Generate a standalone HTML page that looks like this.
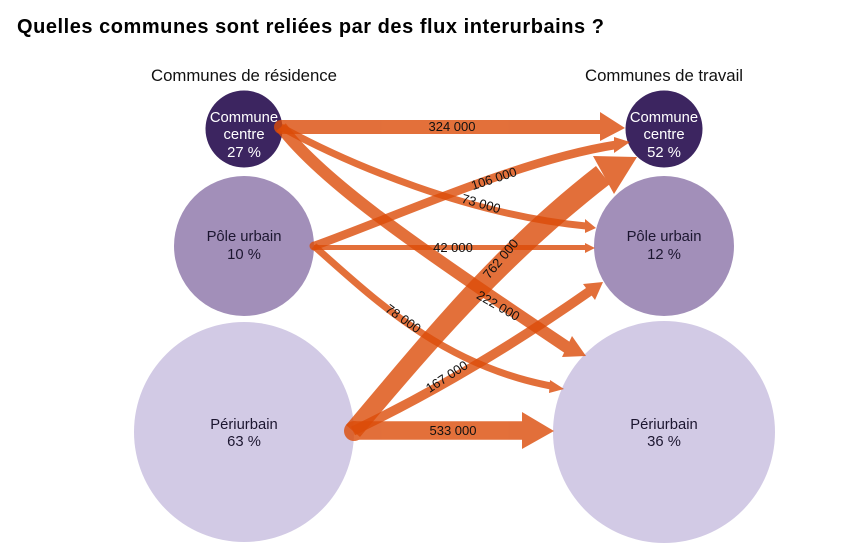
<!DOCTYPE html>
<html><head><meta charset="utf-8"><style>
html,body{margin:0;padding:0;background:#fff;width:867px;height:558px;overflow:hidden}
svg{display:block}
text{font-family:"Liberation Sans",sans-serif}
.f{fill:#dc4c09;stroke:none}
.s{fill:none;stroke:#dc4c09}
.l{font-size:13px;fill:#111;text-anchor:middle}
.c{font-size:14.8px;text-anchor:middle;fill:#1c1630}
.w{font-size:14.8px;text-anchor:middle;fill:#fff}
</style></head><body>
<svg width="867" height="558" viewBox="0 0 867 558" xmlns="http://www.w3.org/2000/svg">
<rect width="867" height="558" fill="#fff"/>
<text x="17" y="33" font-size="20" font-weight="bold" fill="#000" textLength="587" lengthAdjust="spacing">Quelles communes sont reliées par des flux interurbains ?</text>
<text x="151" y="81" font-size="16.800" fill="#111" textLength="186">Communes de résidence</text>
<text x="585" y="81" font-size="16.800" fill="#111" textLength="158">Communes de travail</text>

<circle cx="244" cy="129" r="38.5" fill="#3c2560"/>
<circle cx="244" cy="246" r="70" fill="#a28fb9"/>
<circle cx="244" cy="432" r="110" fill="#d2cae5"/>
<circle cx="664" cy="129" r="38.5" fill="#3c2560"/>
<circle cx="664" cy="246" r="70" fill="#a28fb9"/>
<circle cx="664" cy="432" r="111" fill="#d2cae5"/>

<g opacity="0.8">
<path class="s" stroke-width="14" d="M281,127 H601"/>
<polygon class="f" points="600,112 625,128 600,141"/>
<circle class="f" cx="281" cy="127" r="7"/>
</g>
<g opacity="0.8">
<path class="s" stroke-width="7" d="M281,127 C350,165 470,215 586,226"/>
<polygon class="f" points="585,219 596,228 585,233"/>
</g>
<g opacity="0.8">
<path class="s" stroke-width="12" d="M281,127 C325,185 430,255 568,348"/>
<polygon class="f" points="572,336 586,356 562,357"/>
</g>
<g opacity="0.8">
<path class="s" stroke-width="8.500" d="M314,246 C400,215 520,160 615,145"/>
<polygon class="f" points="614,137 630,142 614,153"/>
<circle class="f" cx="314" cy="246" r="4.5"/>
</g>
<g opacity="0.8">
<path class="s" stroke-width="5" d="M314,247.500 H586"/>
<polygon class="f" points="585,243 595,248 585,253"/>
</g>
<g opacity="0.8">
<path class="s" stroke-width="7" d="M314,246 C370,295 440,365 551,386"/>
<polygon class="f" points="550,380 564,389 549,393"/>
</g>
<g opacity="0.8">
<path class="f" d="M346,425 C423,334 493,246 596,166 L610,184 C507,264 437,346 360,437 Z"/>
<polygon class="f" points="593,156 637,157 614,194"/>
</g>
<g opacity="0.8">
<path class="s" stroke-width="9.500" d="M353,431 Q470,375 590,291"/>
<polygon class="f" points="583,284 603,282 595,300"/>
</g>
<g opacity="0.8">
<path class="s" stroke-width="18.500" d="M354,430.500 H523"/>
<polygon class="f" points="522,412 554,431 522,449"/>
<circle class="f" cx="354" cy="431" r="10"/>
</g>

<text class="w" x="244" y="122">Commune</text>
<text class="w" x="244" y="139">centre</text>
<text class="w" x="244" y="157">27 %</text>
<text class="c" x="244" y="241">Pôle urbain</text>
<text class="c" x="244" y="259">10 %</text>
<text class="c" x="244" y="429">Périurbain</text>
<text class="c" x="244" y="446">63 %</text>
<text class="w" x="664" y="122">Commune</text>
<text class="w" x="664" y="139">centre</text>
<text class="w" x="664" y="157">52 %</text>
<text class="c" x="664" y="241">Pôle urbain</text>
<text class="c" x="664" y="259">12 %</text>
<text class="c" x="664" y="429">Périurbain</text>
<text class="c" x="664" y="446">36 %</text>

<text class="l" x="452" y="131">324 000</text>
<text class="l" x="494" y="183" transform="rotate(-18 494 179)">106 000</text>
<text class="l" x="481" y="208" transform="rotate(16 481 204)">73 000</text>
<text class="l" x="453" y="252">42 000</text>
<text class="l" x="501" y="263" transform="rotate(-50 501 259)">762 000</text>
<text class="l" x="498" y="310" transform="rotate(30 498 306)">222 000</text>
<text class="l" x="403" y="323" transform="rotate(35 403 319)">78 000</text>
<text class="l" x="447" y="381" transform="rotate(-33 447 377)">167 000</text>
<text class="l" x="453" y="435">533 000</text>
</svg>
</body></html>
